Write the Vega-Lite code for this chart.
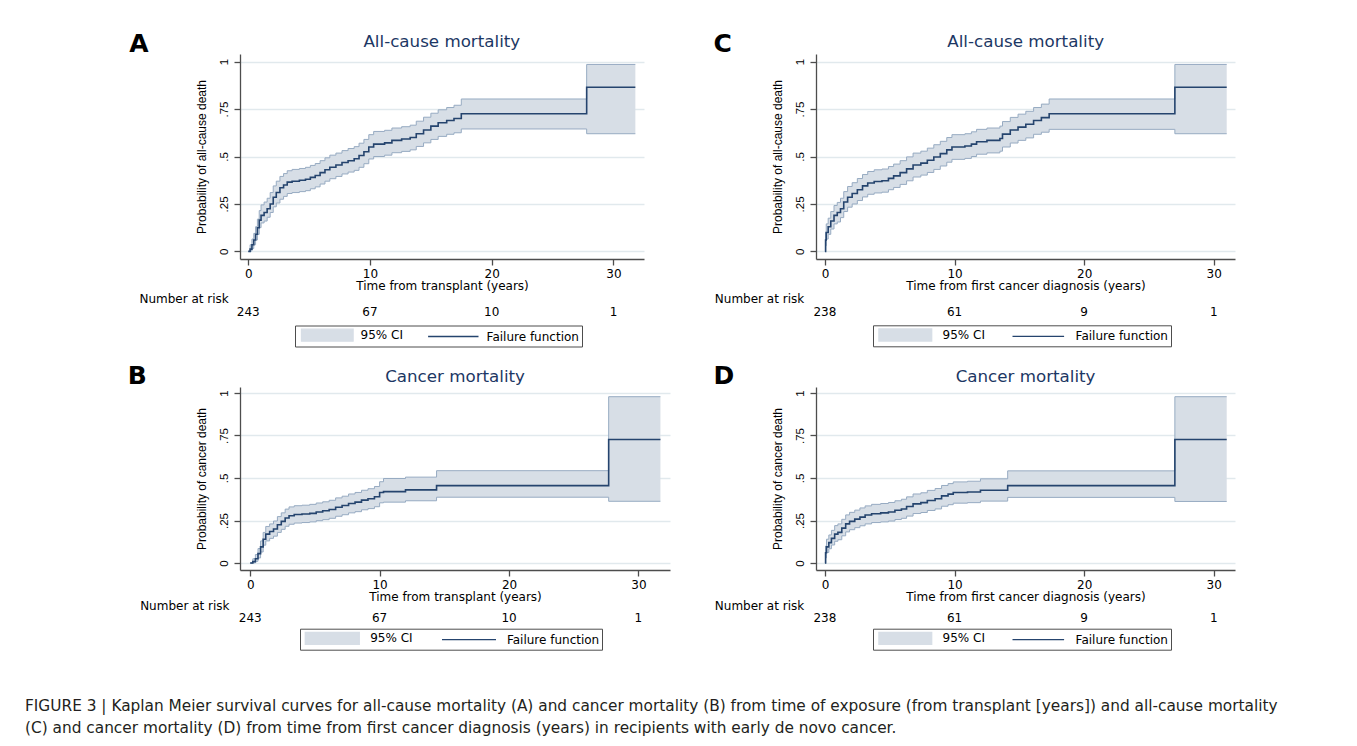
{
  "$schema": "https://vega.github.io/schema/vega-lite/v6.json",
  "padding": {"left": 25, "top": 31, "right": 0, "bottom": 0},
  "background": "white",
  "title": {
    "text": ["FIGURE 3 | Kaplan Meier survival curves for all-cause mortality (A) and cancer mortality (B) from time of exposure (from transplant [years]) and all-cause mortality", "(C) and cancer mortality (D) from time from first cancer diagnosis (years) in recipients with early de novo cancer."],
    "orient": "bottom", "anchor": "start", "frame": "group", "dx": -215, "offset": 49,
    "font": "DejaVu Sans", "fontSize": 15.35, "fontWeight": "normal", "color": "#231f20", "lineHeight": 22
  },
  "datasets": {
    "A": [
      {"t": 0, "est": 0, "lo": 0, "hi": 0},
      {"t": 0.15, "est": 0.012, "lo": 0.002, "hi": 0.035},
      {"t": 0.3, "est": 0.035, "lo": 0.015, "hi": 0.065},
      {"t": 0.45, "est": 0.06, "lo": 0.035, "hi": 0.095},
      {"t": 0.6, "est": 0.09, "lo": 0.06, "hi": 0.13},
      {"t": 0.75, "est": 0.125, "lo": 0.09, "hi": 0.17},
      {"t": 0.9, "est": 0.165, "lo": 0.125, "hi": 0.215},
      {"t": 1.05, "est": 0.19, "lo": 0.15, "hi": 0.245},
      {"t": 1.3, "est": 0.205, "lo": 0.16, "hi": 0.26},
      {"t": 1.55, "est": 0.225, "lo": 0.18, "hi": 0.28},
      {"t": 1.8, "est": 0.25, "lo": 0.205, "hi": 0.31},
      {"t": 2.05, "est": 0.285, "lo": 0.235, "hi": 0.345},
      {"t": 2.3, "est": 0.31, "lo": 0.255, "hi": 0.37},
      {"t": 2.6, "est": 0.335, "lo": 0.275, "hi": 0.395},
      {"t": 2.9, "est": 0.35, "lo": 0.29, "hi": 0.41},
      {"t": 3.2, "est": 0.365, "lo": 0.305, "hi": 0.425},
      {"t": 3.6, "est": 0.37, "lo": 0.31, "hi": 0.432},
      {"t": 4.2, "est": 0.375, "lo": 0.315, "hi": 0.437},
      {"t": 4.7, "est": 0.38, "lo": 0.32, "hi": 0.443},
      {"t": 5.1, "est": 0.39, "lo": 0.33, "hi": 0.453},
      {"t": 5.5, "est": 0.4, "lo": 0.34, "hi": 0.463},
      {"t": 5.9, "est": 0.415, "lo": 0.355, "hi": 0.478},
      {"t": 6.3, "est": 0.43, "lo": 0.37, "hi": 0.493},
      {"t": 6.7, "est": 0.443, "lo": 0.383, "hi": 0.507},
      {"t": 7.2, "est": 0.455, "lo": 0.395, "hi": 0.518},
      {"t": 7.7, "est": 0.468, "lo": 0.408, "hi": 0.531},
      {"t": 8.2, "est": 0.478, "lo": 0.418, "hi": 0.542},
      {"t": 8.7, "est": 0.488, "lo": 0.427, "hi": 0.552},
      {"t": 9.1, "est": 0.505, "lo": 0.443, "hi": 0.57},
      {"t": 9.5, "est": 0.525, "lo": 0.462, "hi": 0.59},
      {"t": 9.9, "est": 0.55, "lo": 0.487, "hi": 0.615},
      {"t": 10.3, "est": 0.565, "lo": 0.5, "hi": 0.632},
      {"t": 11.2, "est": 0.572, "lo": 0.507, "hi": 0.638},
      {"t": 11.8, "est": 0.585, "lo": 0.52, "hi": 0.65},
      {"t": 12.6, "est": 0.592, "lo": 0.527, "hi": 0.657},
      {"t": 13.3, "est": 0.6, "lo": 0.535, "hi": 0.665},
      {"t": 13.8, "est": 0.62, "lo": 0.553, "hi": 0.686},
      {"t": 14.4, "est": 0.64, "lo": 0.572, "hi": 0.707},
      {"t": 15.0, "est": 0.66, "lo": 0.59, "hi": 0.728},
      {"t": 15.6, "est": 0.678, "lo": 0.606, "hi": 0.746},
      {"t": 16.3, "est": 0.69, "lo": 0.617, "hi": 0.758},
      {"t": 16.9, "est": 0.7, "lo": 0.625, "hi": 0.77},
      {"t": 17.5, "est": 0.725, "lo": 0.645, "hi": 0.803},
      {"t": 27.8, "est": 0.865, "lo": 0.62, "hi": 0.985},
      {"t": 31.8, "est": 0.865, "lo": 0.62, "hi": 0.985}
    ],
    "C": [
      {"t": 0, "est": 0, "lo": 0, "hi": 0},
      {"t": 0.05, "est": 0.06, "lo": 0.03, "hi": 0.1},
      {"t": 0.1, "est": 0.1, "lo": 0.065, "hi": 0.145},
      {"t": 0.25, "est": 0.13, "lo": 0.09, "hi": 0.175},
      {"t": 0.45, "est": 0.16, "lo": 0.118, "hi": 0.21},
      {"t": 0.7, "est": 0.19, "lo": 0.145, "hi": 0.242},
      {"t": 0.95, "est": 0.205, "lo": 0.155, "hi": 0.258},
      {"t": 1.2, "est": 0.225, "lo": 0.178, "hi": 0.28},
      {"t": 1.45, "est": 0.26, "lo": 0.21, "hi": 0.315},
      {"t": 1.75, "est": 0.285, "lo": 0.233, "hi": 0.342},
      {"t": 2.1, "est": 0.305, "lo": 0.25, "hi": 0.362},
      {"t": 2.5, "est": 0.325, "lo": 0.268, "hi": 0.384},
      {"t": 2.9, "est": 0.345, "lo": 0.287, "hi": 0.405},
      {"t": 3.3, "est": 0.36, "lo": 0.301, "hi": 0.421},
      {"t": 3.8, "est": 0.368, "lo": 0.308, "hi": 0.43},
      {"t": 4.4, "est": 0.372, "lo": 0.312, "hi": 0.434},
      {"t": 4.9, "est": 0.385, "lo": 0.325, "hi": 0.447},
      {"t": 5.3, "est": 0.398, "lo": 0.337, "hi": 0.46},
      {"t": 5.8, "est": 0.415, "lo": 0.353, "hi": 0.478},
      {"t": 6.3, "est": 0.435, "lo": 0.372, "hi": 0.498},
      {"t": 6.8, "est": 0.455, "lo": 0.392, "hi": 0.518},
      {"t": 7.4, "est": 0.465, "lo": 0.402, "hi": 0.528},
      {"t": 7.9, "est": 0.48, "lo": 0.416, "hi": 0.544},
      {"t": 8.4, "est": 0.497, "lo": 0.432, "hi": 0.562},
      {"t": 8.9, "est": 0.515, "lo": 0.45, "hi": 0.58},
      {"t": 9.4, "est": 0.535, "lo": 0.47, "hi": 0.6},
      {"t": 9.8, "est": 0.55, "lo": 0.485, "hi": 0.615},
      {"t": 10.8, "est": 0.555, "lo": 0.49, "hi": 0.62},
      {"t": 11.3, "est": 0.565, "lo": 0.5, "hi": 0.63},
      {"t": 11.7, "est": 0.578, "lo": 0.512, "hi": 0.643},
      {"t": 12.5, "est": 0.585, "lo": 0.519, "hi": 0.65},
      {"t": 13.5, "est": 0.595, "lo": 0.528, "hi": 0.66},
      {"t": 13.7, "est": 0.618, "lo": 0.55, "hi": 0.684},
      {"t": 14.3, "est": 0.64, "lo": 0.571, "hi": 0.706},
      {"t": 14.9, "est": 0.655, "lo": 0.585, "hi": 0.723},
      {"t": 15.5, "est": 0.67, "lo": 0.598, "hi": 0.738},
      {"t": 16.1, "est": 0.69, "lo": 0.617, "hi": 0.758},
      {"t": 16.7, "est": 0.705, "lo": 0.628, "hi": 0.776},
      {"t": 17.3, "est": 0.725, "lo": 0.643, "hi": 0.803},
      {"t": 27.0, "est": 0.865, "lo": 0.62, "hi": 0.985},
      {"t": 31.0, "est": 0.865, "lo": 0.62, "hi": 0.985}
    ],
    "B": [
      {"t": 0, "est": 0, "lo": 0, "hi": 0},
      {"t": 0.2, "est": 0.008, "lo": 0.001, "hi": 0.025},
      {"t": 0.4, "est": 0.025, "lo": 0.01, "hi": 0.05},
      {"t": 0.6, "est": 0.055, "lo": 0.03, "hi": 0.085},
      {"t": 0.8, "est": 0.095, "lo": 0.065, "hi": 0.13},
      {"t": 1.0, "est": 0.14, "lo": 0.105, "hi": 0.18},
      {"t": 1.2, "est": 0.17, "lo": 0.13, "hi": 0.215},
      {"t": 1.5, "est": 0.185, "lo": 0.145, "hi": 0.23},
      {"t": 1.8, "est": 0.2, "lo": 0.158, "hi": 0.247},
      {"t": 2.1, "est": 0.225, "lo": 0.18, "hi": 0.273},
      {"t": 2.4, "est": 0.245, "lo": 0.198, "hi": 0.295},
      {"t": 2.7, "est": 0.265, "lo": 0.216, "hi": 0.317},
      {"t": 3.0, "est": 0.278, "lo": 0.228, "hi": 0.33},
      {"t": 3.4, "est": 0.285, "lo": 0.235, "hi": 0.337},
      {"t": 4.0, "est": 0.288, "lo": 0.238, "hi": 0.34},
      {"t": 4.6, "est": 0.292, "lo": 0.242, "hi": 0.345},
      {"t": 5.1, "est": 0.3, "lo": 0.249, "hi": 0.353},
      {"t": 5.6, "est": 0.307, "lo": 0.255, "hi": 0.36},
      {"t": 6.1, "est": 0.315, "lo": 0.263, "hi": 0.369},
      {"t": 6.6, "est": 0.328, "lo": 0.275, "hi": 0.383},
      {"t": 7.1, "est": 0.338, "lo": 0.284, "hi": 0.393},
      {"t": 7.6, "est": 0.35, "lo": 0.295, "hi": 0.406},
      {"t": 8.1, "est": 0.358, "lo": 0.302, "hi": 0.415},
      {"t": 8.6, "est": 0.37, "lo": 0.313, "hi": 0.428},
      {"t": 9.1, "est": 0.378, "lo": 0.32, "hi": 0.437},
      {"t": 9.6, "est": 0.39, "lo": 0.331, "hi": 0.45},
      {"t": 10.0, "est": 0.415, "lo": 0.354, "hi": 0.478},
      {"t": 10.3, "est": 0.42, "lo": 0.358, "hi": 0.497},
      {"t": 12.0, "est": 0.43, "lo": 0.366, "hi": 0.505},
      {"t": 14.4, "est": 0.455, "lo": 0.387, "hi": 0.543},
      {"t": 27.7, "est": 0.726, "lo": 0.363, "hi": 0.978},
      {"t": 31.7, "est": 0.726, "lo": 0.363, "hi": 0.978}
    ],
    "D": [
      {"t": 0, "est": 0, "lo": 0, "hi": 0},
      {"t": 0.05, "est": 0.06, "lo": 0.03, "hi": 0.1},
      {"t": 0.12, "est": 0.095, "lo": 0.062, "hi": 0.14},
      {"t": 0.3, "est": 0.12, "lo": 0.084, "hi": 0.165},
      {"t": 0.5, "est": 0.145, "lo": 0.106, "hi": 0.192},
      {"t": 0.75, "est": 0.17, "lo": 0.128, "hi": 0.22},
      {"t": 1.0, "est": 0.18, "lo": 0.137, "hi": 0.23},
      {"t": 1.3, "est": 0.205, "lo": 0.16, "hi": 0.257},
      {"t": 1.6, "est": 0.23, "lo": 0.183, "hi": 0.283},
      {"t": 1.9, "est": 0.245, "lo": 0.196, "hi": 0.298},
      {"t": 2.3, "est": 0.258, "lo": 0.208, "hi": 0.311},
      {"t": 2.7, "est": 0.27, "lo": 0.219, "hi": 0.324},
      {"t": 3.1, "est": 0.282, "lo": 0.23, "hi": 0.336},
      {"t": 3.6, "est": 0.29, "lo": 0.238, "hi": 0.345},
      {"t": 4.3, "est": 0.295, "lo": 0.242, "hi": 0.35},
      {"t": 4.9, "est": 0.3, "lo": 0.247, "hi": 0.356},
      {"t": 5.4, "est": 0.31, "lo": 0.256, "hi": 0.366},
      {"t": 5.9, "est": 0.318, "lo": 0.263, "hi": 0.375},
      {"t": 6.3, "est": 0.332, "lo": 0.276, "hi": 0.389},
      {"t": 6.8, "est": 0.348, "lo": 0.291, "hi": 0.406},
      {"t": 7.4, "est": 0.355, "lo": 0.297, "hi": 0.413},
      {"t": 7.9, "est": 0.368, "lo": 0.309, "hi": 0.427},
      {"t": 8.5, "est": 0.378, "lo": 0.318, "hi": 0.438},
      {"t": 9.0, "est": 0.395, "lo": 0.334, "hi": 0.456},
      {"t": 9.5, "est": 0.405, "lo": 0.343, "hi": 0.467},
      {"t": 9.9, "est": 0.415, "lo": 0.352, "hi": 0.477},
      {"t": 11.0, "est": 0.418, "lo": 0.355, "hi": 0.481},
      {"t": 12.0, "est": 0.428, "lo": 0.364, "hi": 0.495},
      {"t": 14.1, "est": 0.455, "lo": 0.386, "hi": 0.542},
      {"t": 27.0, "est": 0.726, "lo": 0.362, "hi": 0.978},
      {"t": 31.0, "est": 0.726, "lo": 0.362, "hi": 0.978}
    ],
    "riskAB": [{"t": 0, "n": "243"}, {"t": 10, "n": "67"}, {"t": 20, "n": "10"}, {"t": 30, "n": "1"}],
    "riskCD": [{"t": 0, "n": "238"}, {"t": 10, "n": "61"}, {"t": 20, "n": "9"}, {"t": 30, "n": "1"}]
  },
  "vconcat": [
    {
      "hconcat": [
        {
          "width": 404, "height": 205,
          "layer": [
            {"data": {"name": "A"}, "mark": {"type": "area", "interpolate": "step-after", "opacity": 1},
             "encoding": {
               "x": {"field": "t", "type": "quantitative", "title": "Time from transplant (years)", "scale": {"domain": [-0.68, 32.51], "nice": false, "zero": false}, "axis": {"values": [0, 10, 20, 30]}},
               "y": {"field": "lo", "type": "quantitative", "title": "Probability of all-cause death", "scale": {"domain": [-0.04, 1.04], "nice": false, "zero": false}, "axis": {"values": [0, 0.25, 0.5, 0.75, 1], "format": ".2~f", "labelExpr": "replace(datum.label, '0.', '.')"}},
               "y2": {"field": "hi"},
               "color": {"datum": "95% CI", "scale": {"domain": ["95% CI", "Failure function"], "range": ["#d7dee6", "#25446e"]},
                 "legend": {"orient": "none", "legendX": 55, "legendY": 271.5, "direction": "horizontal", "title": null, "symbolOffset": 22.8, "labelOffset": 26.3, "columnPadding": 20,
                   "symbolType": {"expr": "datum.value === '95% CI' ? 'M-4.3,-1H4.3V1H-4.3Z' : 'M-4.2,0H4.2'"},
                   "symbolStrokeColor": {"expr": "datum.value === '95% CI' ? '#d7dee6' : '#4a6a94'"}}}
             }},
            {"data": {"name": "A"}, "mark": {"type": "line", "interpolate": "step-after", "stroke": "#97abc2", "strokeWidth": 1}, "encoding": {"x": {"field": "t", "type": "quantitative", "title": "Time from transplant (years)"}, "y": {"field": "lo", "type": "quantitative", "title": "Probability of all-cause death"}}},
            {"data": {"name": "A"}, "mark": {"type": "line", "interpolate": "step-after", "stroke": "#97abc2", "strokeWidth": 1}, "encoding": {"x": {"field": "t", "type": "quantitative", "title": "Time from transplant (years)"}, "y": {"field": "hi", "type": "quantitative", "title": "Probability of all-cause death"}}},
            {"data": {"name": "A"}, "mark": {"type": "line", "interpolate": "step-after", "strokeWidth": 1.6}, "encoding": {"x": {"field": "t", "type": "quantitative", "title": "Time from transplant (years)"}, "y": {"field": "est", "type": "quantitative", "title": "Probability of all-cause death"}, "color": {"datum": "Failure function"}}},
            {"data": {"name": "riskAB"}, "mark": {"type": "text", "fontSize": 12, "baseline": "middle"}, "encoding": {"x": {"field": "t", "type": "quantitative", "title": "Time from transplant (years)"}, "y": {"datum": -0.319, "type": "quantitative", "title": "Probability of all-cause death"}, "text": {"field": "n"}}},
            {"data": {"values": [{"lab": "Number at risk"}]}, "mark": {"type": "text", "fontSize": 12, "align": "right", "baseline": "middle"}, "encoding": {"x": {"datum": -1.6, "type": "quantitative", "title": "Time from transplant (years)"}, "y": {"datum": -0.249, "type": "quantitative", "title": "Probability of all-cause death"}, "text": {"field": "lab"}}},
            {"data": {"values": [{"lab": "All-cause mortality"}]}, "mark": {"type": "text", "fontSize": 16.7, "color": "#1c3764", "align": "center", "baseline": "alphabetic"}, "encoding": {"x": {"datum": 15.9, "type": "quantitative", "title": "Time from transplant (years)"}, "y": {"datum": 1.075, "type": "quantitative", "title": "Probability of all-cause death"}, "text": {"field": "lab"}}},
            {"data": {"values": [{"lab": "A"}]}, "mark": {"type": "text", "fontSize": 25, "fontWeight": "bold", "align": "center", "baseline": "alphabetic"}, "encoding": {"x": {"datum": -8.98, "type": "quantitative", "title": "Time from transplant (years)"}, "y": {"datum": 1.052, "type": "quantitative", "title": "Probability of all-cause death"}, "text": {"field": "lab"}}}
          ]
        },
        {
          "width": 419, "height": 205,
          "layer": [
            {"data": {"name": "C"}, "mark": {"type": "area", "interpolate": "step-after", "opacity": 1},
             "encoding": {
               "x": {"field": "t", "type": "quantitative", "title": "Time from first cancer diagnosis (years)", "scale": {"domain": [-0.69, 31.64], "nice": false, "zero": false}, "axis": {"values": [0, 10, 20, 30]}},
               "y": {"field": "lo", "type": "quantitative", "title": "Probability of all-cause death", "scale": {"domain": [-0.04, 1.04], "nice": false, "zero": false}, "axis": {"values": [0, 0.25, 0.5, 0.75, 1], "format": ".2~f", "labelExpr": "replace(datum.label, '0.', '.')"}},
               "y2": {"field": "hi"},
               "color": {"datum": "95% CI", "scale": {"domain": ["95% CI", "Failure function"], "range": ["#d7dee6", "#25446e"]},
                 "legend": {"orient": "none", "legendX": 57, "legendY": 271.3, "direction": "horizontal", "title": null, "symbolOffset": 22.8, "labelOffset": 30.3, "columnPadding": 23,
                   "symbolType": {"expr": "datum.value === '95% CI' ? 'M-4.4,-1H4.4V1H-4.4Z' : 'M-4.3,0H4.3'"},
                   "symbolStrokeColor": {"expr": "datum.value === '95% CI' ? '#d7dee6' : '#4a6a94'"}}}
             }},
            {"data": {"name": "C"}, "mark": {"type": "line", "interpolate": "step-after", "stroke": "#97abc2", "strokeWidth": 1}, "encoding": {"x": {"field": "t", "type": "quantitative", "title": "Time from first cancer diagnosis (years)"}, "y": {"field": "lo", "type": "quantitative", "title": "Probability of all-cause death"}}},
            {"data": {"name": "C"}, "mark": {"type": "line", "interpolate": "step-after", "stroke": "#97abc2", "strokeWidth": 1}, "encoding": {"x": {"field": "t", "type": "quantitative", "title": "Time from first cancer diagnosis (years)"}, "y": {"field": "hi", "type": "quantitative", "title": "Probability of all-cause death"}}},
            {"data": {"name": "C"}, "mark": {"type": "line", "interpolate": "step-after", "strokeWidth": 1.6}, "encoding": {"x": {"field": "t", "type": "quantitative", "title": "Time from first cancer diagnosis (years)"}, "y": {"field": "est", "type": "quantitative", "title": "Probability of all-cause death"}, "color": {"datum": "Failure function"}}},
            {"data": {"name": "riskCD"}, "mark": {"type": "text", "fontSize": 12, "baseline": "middle"}, "encoding": {"x": {"field": "t", "type": "quantitative", "title": "Time from first cancer diagnosis (years)"}, "y": {"datum": -0.319, "type": "quantitative", "title": "Probability of all-cause death"}, "text": {"field": "n"}}},
            {"data": {"values": [{"lab": "Number at risk"}]}, "mark": {"type": "text", "fontSize": 12, "align": "right", "baseline": "middle"}, "encoding": {"x": {"datum": -1.6, "type": "quantitative", "title": "Time from first cancer diagnosis (years)"}, "y": {"datum": -0.25, "type": "quantitative", "title": "Probability of all-cause death"}, "text": {"field": "lab"}}},
            {"data": {"values": [{"lab": "All-cause mortality"}]}, "mark": {"type": "text", "fontSize": 16.7, "color": "#1c3764", "align": "center", "baseline": "alphabetic"}, "encoding": {"x": {"datum": 15.49, "type": "quantitative", "title": "Time from first cancer diagnosis (years)"}, "y": {"datum": 1.075, "type": "quantitative", "title": "Probability of all-cause death"}, "text": {"field": "lab"}}},
            {"data": {"values": [{"lab": "C"}]}, "mark": {"type": "text", "fontSize": 25, "fontWeight": "bold", "align": "center", "baseline": "alphabetic"}, "encoding": {"x": {"datum": -7.89, "type": "quantitative", "title": "Time from first cancer diagnosis (years)"}, "y": {"datum": 1.052, "type": "quantitative", "title": "Probability of all-cause death"}, "text": {"field": "lab"}}}
          ]
        }
      ],
      "spacing": 172,
      "bounds": "flush",
      "resolve": {"scale": {"color": "independent", "x": "independent", "y": "independent"}, "legend": {"color": "independent"}}
    },
    {
      "hconcat": [
        {
          "width": 430, "height": 183,
          "layer": [
            {"data": {"name": "B"}, "mark": {"type": "area", "interpolate": "step-after", "opacity": 1},
             "encoding": {
               "x": {"field": "t", "type": "quantitative", "title": "Time from transplant (years)", "scale": {"domain": [-0.79, 32.44], "nice": false, "zero": false}, "axis": {"values": [0, 10, 20, 30]}},
               "y": {"field": "lo", "type": "quantitative", "title": "Probability of cancer death", "scale": {"domain": [-0.041, 1.035], "nice": false, "zero": false}, "axis": {"values": [0, 0.25, 0.5, 0.75, 1], "format": ".2~f", "labelExpr": "replace(datum.label, '0.', '.')"}},
               "y2": {"field": "hi"},
               "color": {"datum": "95% CI", "scale": {"domain": ["95% CI", "Failure function"], "range": ["#d7dee6", "#25446e"]},
                 "legend": {"orient": "none", "legendX": 60, "legendY": 241.7, "direction": "horizontal", "title": null, "symbolOffset": 22.8, "labelOffset": 30.9, "columnPadding": 25.7,
                   "symbolType": {"expr": "datum.value === '95% CI' ? 'M-4.5,-1H4.5V1H-4.5Z' : 'M-4.5,0H4.5'"},
                   "symbolStrokeColor": {"expr": "datum.value === '95% CI' ? '#d7dee6' : '#4a6a94'"}}}
             }},
            {"data": {"name": "B"}, "mark": {"type": "line", "interpolate": "step-after", "stroke": "#97abc2", "strokeWidth": 1}, "encoding": {"x": {"field": "t", "type": "quantitative", "title": "Time from transplant (years)"}, "y": {"field": "lo", "type": "quantitative", "title": "Probability of cancer death"}}},
            {"data": {"name": "B"}, "mark": {"type": "line", "interpolate": "step-after", "stroke": "#97abc2", "strokeWidth": 1}, "encoding": {"x": {"field": "t", "type": "quantitative", "title": "Time from transplant (years)"}, "y": {"field": "hi", "type": "quantitative", "title": "Probability of cancer death"}}},
            {"data": {"name": "B"}, "mark": {"type": "line", "interpolate": "step-after", "strokeWidth": 1.6}, "encoding": {"x": {"field": "t", "type": "quantitative", "title": "Time from transplant (years)"}, "y": {"field": "est", "type": "quantitative", "title": "Probability of cancer death"}, "color": {"datum": "Failure function"}}},
            {"data": {"name": "riskAB"}, "mark": {"type": "text", "fontSize": 12, "baseline": "middle"}, "encoding": {"x": {"field": "t", "type": "quantitative", "title": "Time from transplant (years)"}, "y": {"datum": -0.324, "type": "quantitative", "title": "Probability of cancer death"}, "text": {"field": "n"}}},
            {"data": {"values": [{"lab": "Number at risk"}]}, "mark": {"type": "text", "fontSize": 12, "align": "right", "baseline": "middle"}, "encoding": {"x": {"datum": -1.6, "type": "quantitative", "title": "Time from transplant (years)"}, "y": {"datum": -0.251, "type": "quantitative", "title": "Probability of cancer death"}, "text": {"field": "lab"}}},
            {"data": {"values": [{"lab": "Cancer mortality"}]}, "mark": {"type": "text", "fontSize": 16.7, "color": "#1c3764", "align": "center", "baseline": "alphabetic"}, "encoding": {"x": {"datum": 15.83, "type": "quantitative", "title": "Time from transplant (years)"}, "y": {"datum": 1.066, "type": "quantitative", "title": "Probability of cancer death"}, "text": {"field": "lab"}}},
            {"data": {"values": [{"lab": "B"}]}, "mark": {"type": "text", "fontSize": 25, "fontWeight": "bold", "align": "center", "baseline": "alphabetic"}, "encoding": {"x": {"datum": -8.73, "type": "quantitative", "title": "Time from transplant (years)"}, "y": {"datum": 1.05, "type": "quantitative", "title": "Probability of cancer death"}, "text": {"field": "lab"}}}
          ]
        },
        {
          "width": 419, "height": 183,
          "layer": [
            {"data": {"name": "D"}, "mark": {"type": "area", "interpolate": "step-after", "opacity": 1},
             "encoding": {
               "x": {"field": "t", "type": "quantitative", "title": "Time from first cancer diagnosis (years)", "scale": {"domain": [-0.69, 31.64], "nice": false, "zero": false}, "axis": {"values": [0, 10, 20, 30]}},
               "y": {"field": "lo", "type": "quantitative", "title": "Probability of cancer death", "scale": {"domain": [-0.041, 1.035], "nice": false, "zero": false}, "axis": {"values": [0, 0.25, 0.5, 0.75, 1], "format": ".2~f", "labelExpr": "replace(datum.label, '0.', '.')"}},
               "y2": {"field": "hi"},
               "color": {"datum": "95% CI", "scale": {"domain": ["95% CI", "Failure function"], "range": ["#d7dee6", "#25446e"]},
                 "legend": {"orient": "none", "legendX": 57, "legendY": 241.7, "direction": "horizontal", "title": null, "symbolOffset": 22.8, "labelOffset": 30.3, "columnPadding": 23,
                   "symbolType": {"expr": "datum.value === '95% CI' ? 'M-4.4,-1H4.4V1H-4.4Z' : 'M-4.3,0H4.3'"},
                   "symbolStrokeColor": {"expr": "datum.value === '95% CI' ? '#d7dee6' : '#4a6a94'"}}}
             }},
            {"data": {"name": "D"}, "mark": {"type": "line", "interpolate": "step-after", "stroke": "#97abc2", "strokeWidth": 1}, "encoding": {"x": {"field": "t", "type": "quantitative", "title": "Time from first cancer diagnosis (years)"}, "y": {"field": "lo", "type": "quantitative", "title": "Probability of cancer death"}}},
            {"data": {"name": "D"}, "mark": {"type": "line", "interpolate": "step-after", "stroke": "#97abc2", "strokeWidth": 1}, "encoding": {"x": {"field": "t", "type": "quantitative", "title": "Time from first cancer diagnosis (years)"}, "y": {"field": "hi", "type": "quantitative", "title": "Probability of cancer death"}}},
            {"data": {"name": "D"}, "mark": {"type": "line", "interpolate": "step-after", "strokeWidth": 1.6}, "encoding": {"x": {"field": "t", "type": "quantitative", "title": "Time from first cancer diagnosis (years)"}, "y": {"field": "est", "type": "quantitative", "title": "Probability of cancer death"}, "color": {"datum": "Failure function"}}},
            {"data": {"name": "riskCD"}, "mark": {"type": "text", "fontSize": 12, "baseline": "middle"}, "encoding": {"x": {"field": "t", "type": "quantitative", "title": "Time from first cancer diagnosis (years)"}, "y": {"datum": -0.324, "type": "quantitative", "title": "Probability of cancer death"}, "text": {"field": "n"}}},
            {"data": {"values": [{"lab": "Number at risk"}]}, "mark": {"type": "text", "fontSize": 12, "align": "right", "baseline": "middle"}, "encoding": {"x": {"datum": -1.6, "type": "quantitative", "title": "Time from first cancer diagnosis (years)"}, "y": {"datum": -0.251, "type": "quantitative", "title": "Probability of cancer death"}, "text": {"field": "lab"}}},
            {"data": {"values": [{"lab": "Cancer mortality"}]}, "mark": {"type": "text", "fontSize": 16.7, "color": "#1c3764", "align": "center", "baseline": "alphabetic"}, "encoding": {"x": {"datum": 15.48, "type": "quantitative", "title": "Time from first cancer diagnosis (years)"}, "y": {"datum": 1.066, "type": "quantitative", "title": "Probability of cancer death"}, "text": {"field": "lab"}}},
            {"data": {"values": [{"lab": "D"}]}, "mark": {"type": "text", "fontSize": 25, "fontWeight": "bold", "align": "center", "baseline": "alphabetic"}, "encoding": {"x": {"datum": -7.79, "type": "quantitative", "title": "Time from first cancer diagnosis (years)"}, "y": {"datum": 1.05, "type": "quantitative", "title": "Probability of cancer death"}, "text": {"field": "lab"}}}
          ]
        }
      ],
      "spacing": 146,
      "bounds": "flush",
      "resolve": {"scale": {"color": "independent", "x": "independent", "y": "independent"}, "legend": {"color": "independent"}}
    }
  ],
  "spacing": 333,
  "bounds": "flush",
  "resolve": {"scale": {"color": "independent", "x": "independent", "y": "independent"}, "legend": {"color": "independent"}},
  "config": {
    "view": {"stroke": null},
    "font": "DejaVu Sans",
    "text": {"font": "DejaVu Sans", "color": "#000"},
    "axis": {"domainColor": "#4d4d4d", "domainWidth": 1.3, "tickColor": "#4d4d4d", "tickWidth": 1.3, "tickSize": 6, "labelColor": "#000", "titleColor": "#000", "titleFontWeight": "normal", "labelFont": "DejaVu Sans", "labelFontSize": 12, "titleFont": "DejaVu Sans", "titleFontSize": 12, "gridColor": "#e1e9ed", "gridWidth": 1.3, "labelOverlap": false},
    "axisX": {"grid": false, "labelPadding": 3, "titlePadding": 1},
    "axisY": {"grid": true, "labelAngle": -90, "labelAlign": "center", "labelBaseline": "bottom", "labelFont": "Liberation Sans", "labelFontSize": 11.5, "labelPadding": 5, "titleFont": "Liberation Sans", "titleFontSize": 12, "titlePadding": 10},
    "legend": {"labelFont": "DejaVu Sans", "labelFontSize": 12, "labelColor": "#000", "strokeColor": "#4d4d4d", "padding": 2.5, "symbolSize": 144, "symbolStrokeWidth": 1.3}
  }
}
